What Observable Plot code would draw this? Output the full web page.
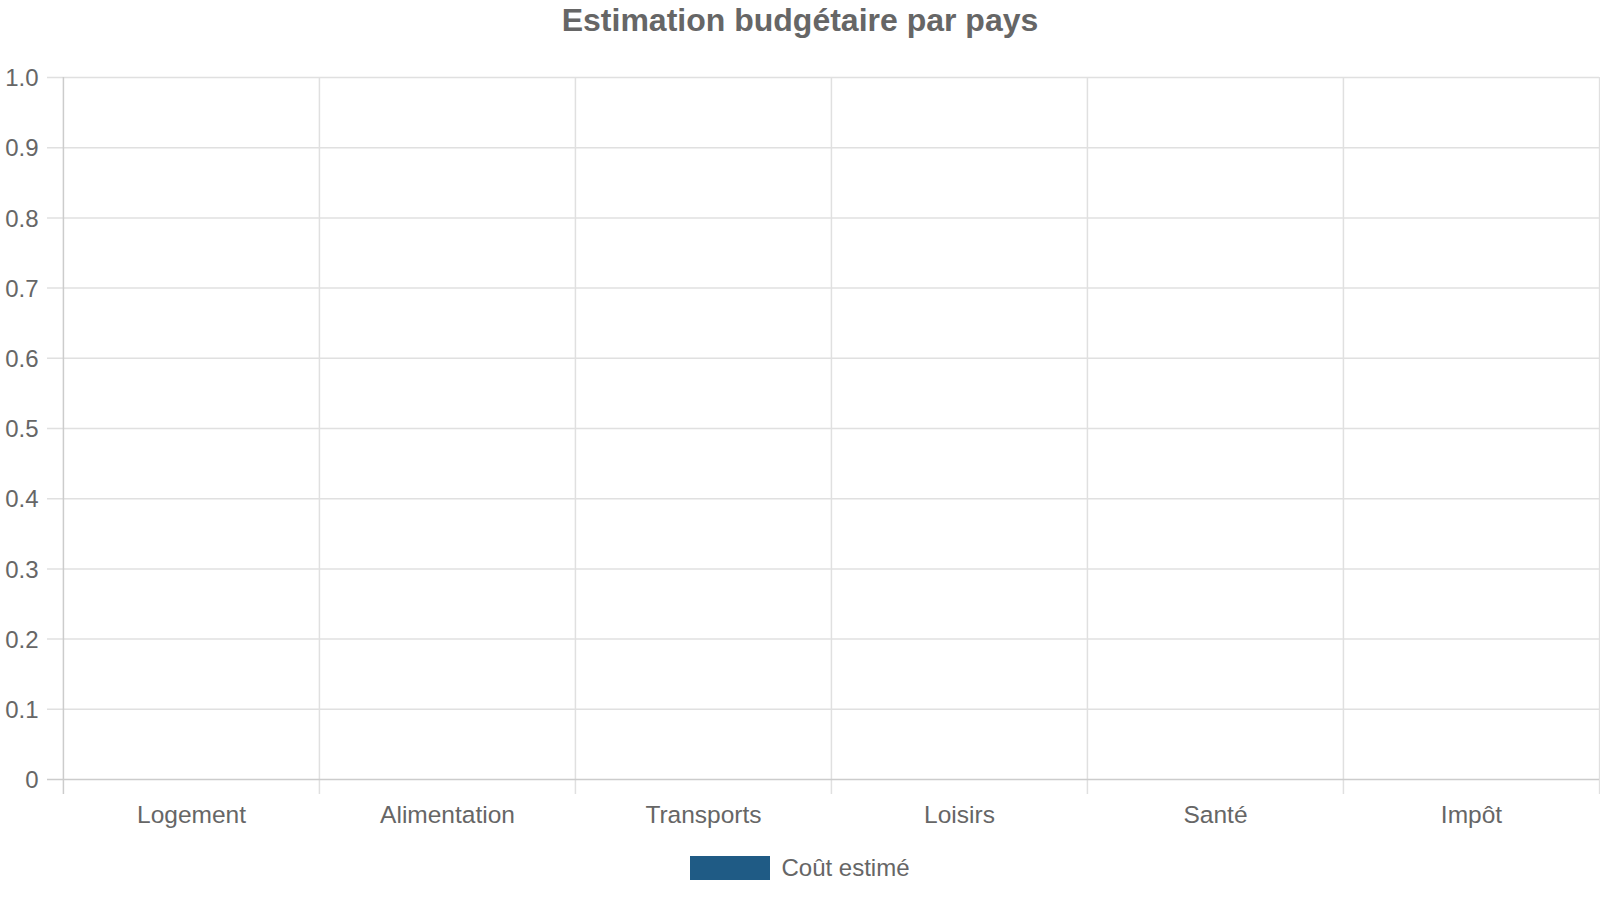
<!DOCTYPE html>
<html>
<head>
<meta charset="utf-8">
<script src="https://cdn.jsdelivr.net/npm/d3@7"></script>
<script src="https://cdn.jsdelivr.net/npm/@observablehq/plot@0.6"></script>
<style>
  html, body { margin: 0; padding: 0; background: #fff; }
  body { width: 1600px; font-family: "Liberation Sans", Arial, sans-serif; color: #666; }
  #title { height: 50px; box-sizing: border-box; padding-top: 4px; text-align: center;
           font-size: 32px; line-height: 32px; font-weight: bold; color: #666; }
  #legend { height: 60px; display: flex; justify-content: center; align-items: flex-start; }
  .item { display: flex; align-items: center; margin-top: 14px; font-size: 24px; color: #666; }
  .sw { width: 80px; height: 24px; margin-right: 11px; }
</style>
</head>
<body>
<div id="title">Estimation budgétaire par pays</div>
<div id="chart"></div>
<div id="legend"></div>
<script>
const categories = ["Logement", "Alimentation", "Transports", "Loisirs", "Santé", "Impôt"];
const values = [0, 0, 0, 0, 0, 0];
const seriesName = "Coût estimé";
const seriesColor = "#1f5b85";
const yTicks = [0, 0.1, 0.2, 0.3, 0.4, 0.5, 0.6, 0.7, 0.8, 0.9, 1.0];

const W = 1600, H = 790, mL = 62, mR = 1, mT = 27, mB = 61;
const bw = (W - mL - mR) / categories.length;
const data = categories.map((c, i) => ({category: c, value: values[i]}));
const gridColor = "#e0e0e0", axisColor = "#cccccc";

const chart = Plot.plot({
  width: W, height: H,
  marginLeft: mL, marginRight: mR, marginTop: mT, marginBottom: mB,
  style: {fontFamily: '"Liberation Sans", Arial, sans-serif', color: "#666", background: "#fff"},
  x: {type: "band", domain: categories, paddingInner: 0, paddingOuter: 0},
  y: {domain: [0, 1]},
  marks: [
    Plot.ruleY(yTicks.filter(d => d !== 0), {y: d => d, stroke: gridColor, strokeWidth: 1.5, insetLeft: -15}),
    Plot.ruleX(categories.slice(1), {x: d => d, dx: -bw / 2, stroke: gridColor, strokeWidth: 1.5, insetBottom: -15}),
    Plot.ruleX(categories.slice(-1), {x: d => d, dx: bw / 2, stroke: gridColor, strokeWidth: 1.5, insetBottom: -15}),
    Plot.ruleX(categories.slice(0, 1), {x: d => d, dx: -bw / 2, stroke: axisColor, strokeWidth: 1.5, insetBottom: -15}),
    Plot.ruleY([0], {stroke: axisColor, strokeWidth: 1.5, insetLeft: -15}),
    Plot.barY(data, {x: "category", y: "value", fill: seriesColor}),
    Plot.axisY({ticks: yTicks, tickSize: 0, tickPadding: 24, fontSize: 24, dy: 1,
      tickFormat: d => d === 0 ? "0" : d.toFixed(1), label: null}),
    Plot.axisX({tickSize: 0, tickPadding: 26, fontSize: 24.5, label: null})
  ]
});
document.getElementById("chart").appendChild(chart);

const legend = document.getElementById("legend");
const item = document.createElement("div");
item.className = "item";
const sw = document.createElement("div");
sw.className = "sw";
sw.style.background = seriesColor;
const lab = document.createElement("span");
lab.textContent = seriesName;
item.appendChild(sw); item.appendChild(lab);
legend.appendChild(item);
</script>
</body>
</html>
